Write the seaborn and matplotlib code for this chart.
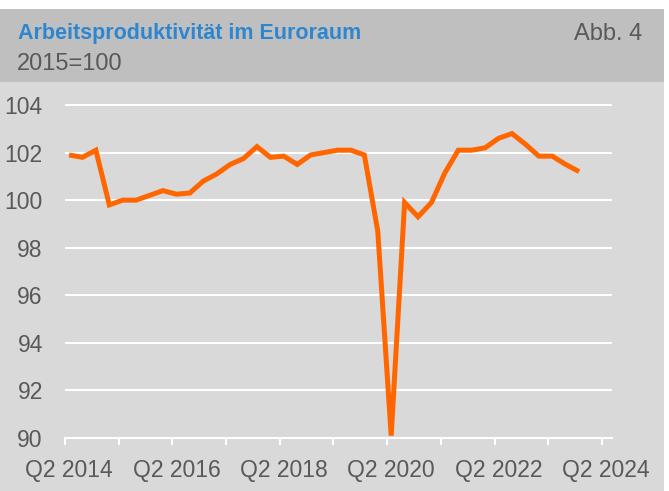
import numpy as np
import pandas as pd
import seaborn as sns
import matplotlib.pyplot as plt
from matplotlib.patches import Rectangle

# Arbeitsproduktivität im Euroraum, 2015=100, quartalsweise Q2 2014 - Q4 2023
values = [101.9, 101.8, 102.1, 99.8, 100.0, 100.0, 100.2, 100.4, 100.25, 100.3,
          100.8, 101.1, 101.5, 101.75, 102.25, 101.8, 101.85, 101.5, 101.9, 102.0,
          102.1, 102.1, 101.9, 98.7, 90.1, 99.9, 99.3, 99.9, 101.15, 102.1,
          102.1, 102.2, 102.6, 102.8, 102.35, 101.85, 101.85, 101.5, 101.2]
tick_labels = ["Q2 2014", "Q2 2016", "Q2 2018", "Q2 2020", "Q2 2022", "Q2 2024"]
y_ticks = [90, 92, 94, 96, 98, 100, 102, 104]

W, H = 669, 491
BG = "#d9d9d9"
HEAD = "#bfbfbf"
GREY = "#595959"
BLUE = "#2e86d0"
ORANGE = "#ff6600"

df = pd.DataFrame({"q": np.arange(len(values)), "wert": values})

sns.set_theme(style="white")
plt.rcParams["font.family"] = ["Liberation Sans", "DejaVu Sans"]

fig = plt.figure(figsize=(W / 100, H / 100), dpi=100, facecolor="white")
fig.patches.append(Rectangle((0, 0), 664 / W, 1 - 82 / H, transform=fig.transFigure,
                             facecolor=BG, edgecolor="none", zorder=-2))
fig.patches.append(Rectangle((0, 1 - 82 / H), 664 / W, 73 / H, transform=fig.transFigure,
                             facecolor=HEAD, edgecolor="none", zorder=-2))

# Achsen: y 89.5..104.4, 23.8 px je Einheit
ylo, yhi = 89.5, 104.4
px_unit = 333 / 14
bottom_px = 438 + (90 - ylo) * px_unit
top_px = 105 - (yhi - 104) * px_unit
ax = fig.add_axes([65 / W, 1 - bottom_px / H, (612 - 65) / W, (bottom_px - top_px) / H])
ax.set_facecolor(BG)

sns.lineplot(data=df, x="q", y="wert", ax=ax, color=ORANGE, linewidth=3.6,
             solid_joinstyle="miter", solid_capstyle="butt", zorder=3)

ax.set_xlim(-0.3, 40.45)
ax.set_ylim(ylo, yhi)
ax.set_xlabel("")
ax.set_ylabel("")

for y in y_ticks[1:]:
    ax.axhline(y, color="white", linewidth=1.5, zorder=1)

for s in ["top", "right", "left"]:
    ax.spines[s].set_visible(False)
ax.spines["bottom"].set_position(("data", 90))
ax.spines["bottom"].set_color("white")
ax.spines["bottom"].set_linewidth(1.5)
ax.spines["bottom"].set_zorder(1)

ax.set_yticks(y_ticks)
ax.set_yticklabels([str(v) for v in y_ticks])
ax.tick_params(axis="y", length=0, pad=16, labelsize=16.5, labelcolor=GREY)

ax.set_xticks([4 * k - 0.3 for k in range(11)])
ax.set_xticklabels([])
ax.tick_params(axis="x", which="major", direction="out", length=5, width=1.5, color="white", bottom=True)
ax.set_xticks([8 * k for k in range(len(tick_labels))], tick_labels, minor=True)
ax.tick_params(axis="x", which="minor", length=0, pad=15, labelsize=16.5, labelcolor=GREY)

fig.text(18 / W, 1 - 39 / H, "Arbeitsproduktivität im Euroraum", color=BLUE,
         fontsize=15.5, fontweight="bold", va="baseline", ha="left")
fig.text(642 / W, 1 - 40 / H, "Abb. 4", color=GREY, fontsize=17, va="baseline", ha="right")
fig.text(17 / W, 1 - 70 / H, "2015=100", color=GREY, fontsize=17, va="baseline", ha="left")

fig.savefig("out.png", dpi=100, facecolor="white")
